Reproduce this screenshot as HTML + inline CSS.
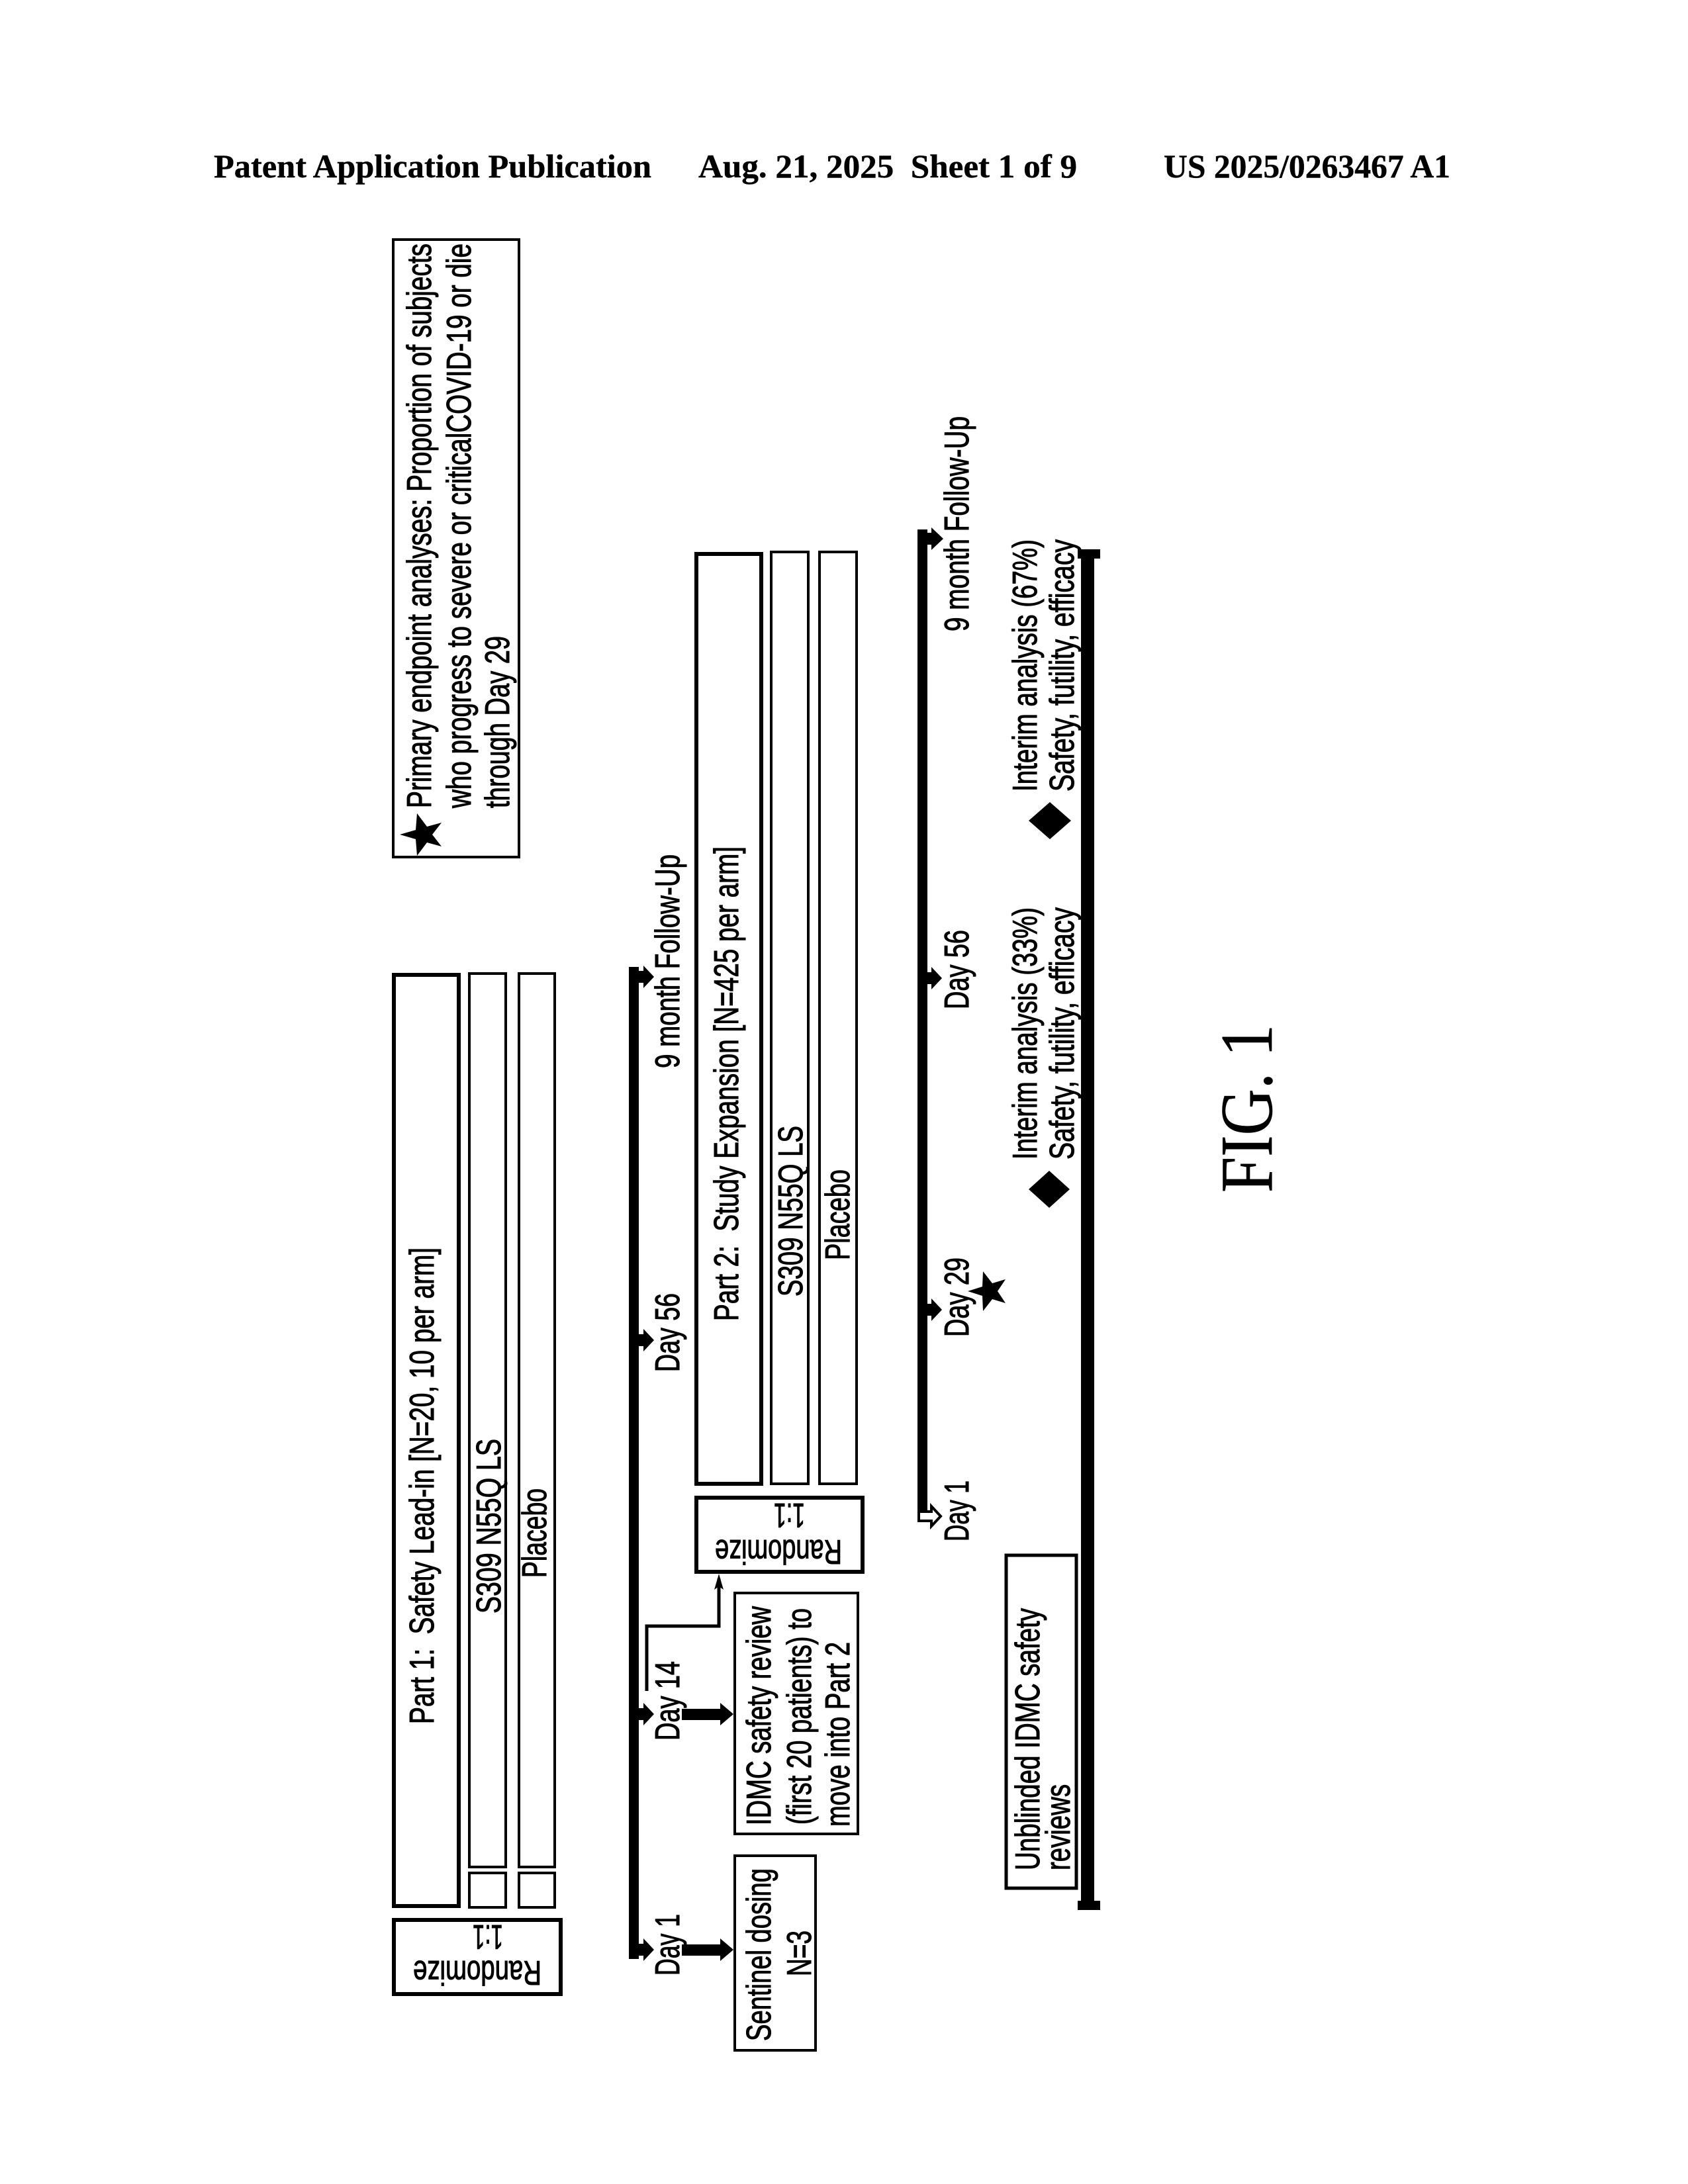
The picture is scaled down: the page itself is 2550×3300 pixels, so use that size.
<!DOCTYPE html>
<html><head><meta charset="utf-8"><title>FIG. 1</title>
<style>
html,body{margin:0;padding:0;background:#fff}
svg{display:block}
text{font-family:"Liberation Sans",sans-serif;font-size:52px;fill:#000;stroke:#000;stroke-width:1.1px}
.h{font-family:"Liberation Serif",serif;font-weight:bold;font-size:50px;stroke-width:0.4px}
.f{font-family:"Liberation Serif",serif;font-size:112px;stroke-width:0.6px}
rect{fill:none;stroke:#000;stroke-width:4}
.t{stroke-width:6}
</style></head><body>
<svg xmlns="http://www.w3.org/2000/svg" width="2550" height="3300" viewBox="0 0 2550 3300">
<rect x="0" y="0" width="2550" height="3300" style="fill:#fff;stroke:none"/>
<!-- header -->
<text class="h" x="323" y="268" textLength="661" lengthAdjust="spacingAndGlyphs">Patent Application Publication</text>
<text class="h" x="1055" y="268" textLength="572" lengthAdjust="spacingAndGlyphs" xml:space="preserve">Aug. 21, 2025  Sheet 1 of 9</text>
<text class="h" x="1758" y="268" textLength="433" lengthAdjust="spacingAndGlyphs">US 2025/0263467 A1</text>

<!-- legend -->
<rect x="594" y="362" width="190" height="933"/>
<polygon points="604,1261 628,1254 630,1229 645,1249 667,1243 653,1261 667,1279 645,1273 630,1293 628,1268"/>
<text transform="translate(651 1221) rotate(-90)" textLength="853" lengthAdjust="spacingAndGlyphs">Primary endpoint analyses: Proportion of subjects</text>
<text transform="translate(711 1221) rotate(-90)" textLength="853" lengthAdjust="spacingAndGlyphs">who progress to severe or criticalCOVID-19 or die</text>
<text transform="translate(769 1221) rotate(-90)" textLength="260" lengthAdjust="spacingAndGlyphs">through Day 29</text>

<!-- Part 1 -->
<rect class="t" x="595" y="1473" width="98" height="1407"/>
<rect x="709" y="1471" width="55" height="1350"/>
<rect x="784" y="1471" width="54" height="1350"/>
<rect x="709" y="2830" width="55" height="52"/>
<rect x="784" y="2830" width="54" height="52"/>
<rect class="t" x="595" y="2901" width="252" height="112"/>
<text transform="translate(655 2605) rotate(-90)" textLength="720" lengthAdjust="spacingAndGlyphs" xml:space="preserve">Part 1:  Safety Lead-in [N=20, 10 per arm]</text>
<text transform="translate(756 2438) rotate(-90)" textLength="264" lengthAdjust="spacingAndGlyphs">S309 N55Q LS</text>
<text transform="translate(825 2384) rotate(-90)" textLength="135" lengthAdjust="spacingAndGlyphs">Placebo</text>
<text transform="translate(818 2963) rotate(180)" textLength="194" lengthAdjust="spacingAndGlyphs">Randomize</text>
<text transform="translate(760 2909) rotate(180)" textLength="46" lengthAdjust="spacingAndGlyphs">1:1</text>

<!-- timeline 1 -->
<rect x="950" y="1461" width="15" height="1499" style="fill:#000;stroke:none"/>
<polygon points="965,1467 972,1467 972,1459 988,1476 972,1493 972,1485 965,1485"/>
<polygon points="965,2016 972,2016 972,2008 988,2025 972,2042 972,2034 965,2034"/>
<polygon points="965,2581 972,2581 972,2573 988,2590 972,2607 972,2599 965,2599"/>
<polygon points="965,2937 972,2937 972,2929 988,2946 972,2963 972,2955 965,2955"/>
<text transform="translate(1026 1614) rotate(-90)" textLength="323" lengthAdjust="spacingAndGlyphs">9 month Follow-Up</text>
<text transform="translate(1026 2073) rotate(-90)" textLength="119" lengthAdjust="spacingAndGlyphs">Day 56</text>
<text transform="translate(1026 2630) rotate(-90)" textLength="120" lengthAdjust="spacingAndGlyphs">Day 14</text>
<text transform="translate(1026 2985) rotate(-90)" textLength="93" lengthAdjust="spacingAndGlyphs">Day 1</text>
<!-- thick arrows -->
<polygon points="1030,2582 1088,2582 1088,2573 1108,2590 1088,2607 1088,2599 1030,2599"/>
<polygon points="1030,2938 1088,2938 1088,2929 1108,2946 1088,2963 1088,2955 1030,2955"/>
<!-- connector -->
<polyline points="977,2555 977,2457 1086,2457 1086,2385" fill="none" stroke="#000" stroke-width="5"/>
<polygon points="1086,2378 1079,2402 1086,2397 1093,2402"/>

<!-- Part 2 -->
<rect class="t" x="1052" y="837" width="98" height="1405"/>
<rect x="1165" y="834" width="56" height="1408"/>
<rect x="1238" y="834" width="56" height="1408"/>
<rect class="t" x="1052" y="2263" width="251" height="112"/>
<text transform="translate(1115 1996) rotate(-90)" textLength="717" lengthAdjust="spacingAndGlyphs" xml:space="preserve">Part 2:  Study Expansion [N=425 per arm]</text>
<text transform="translate(1212 1959) rotate(-90)" textLength="258" lengthAdjust="spacingAndGlyphs">S309 N55Q LS</text>
<text transform="translate(1283 1904) rotate(-90)" textLength="137" lengthAdjust="spacingAndGlyphs">Placebo</text>
<text transform="translate(1272 2327) rotate(180)" textLength="192" lengthAdjust="spacingAndGlyphs">Randomize</text>
<text transform="translate(1216 2272) rotate(180)" textLength="47" lengthAdjust="spacingAndGlyphs">1:1</text>

<!-- review boxes -->
<rect x="1110" y="2407" width="186" height="364"/>
<text transform="translate(1164 2758) rotate(-90)" textLength="331" lengthAdjust="spacingAndGlyphs">IDMC safety review</text>
<text transform="translate(1225 2757) rotate(-90)" textLength="327" lengthAdjust="spacingAndGlyphs">(first 20 patients) to</text>
<text transform="translate(1283 2760) rotate(-90)" textLength="279" lengthAdjust="spacingAndGlyphs">move into Part 2</text>
<rect x="1110" y="2804" width="122" height="294"/>
<text transform="translate(1164 3084) rotate(-90)" textLength="261" lengthAdjust="spacingAndGlyphs">Sentinel dosing</text>
<text transform="translate(1225 2986) rotate(-90)" textLength="69" lengthAdjust="spacingAndGlyphs">N=3</text>

<!-- timeline 2 -->
<rect x="1386" y="800" width="15" height="1486" style="fill:#000;stroke:none"/>
<polygon points="1401,805 1407,805 1407,797 1425,814 1407,831 1407,823 1401,823"/>
<polygon points="1401,1469 1407,1469 1407,1461 1423,1478 1407,1495 1407,1487 1401,1487"/>
<polygon points="1401,1970 1407,1970 1407,1962 1423,1979 1407,1996 1407,1988 1401,1988"/>
<polygon points="1388,2284 1407,2284 1407,2276 1421,2291 1407,2306 1407,2298 1388,2298" fill="#fff" stroke="#000" stroke-width="4"/>
<text transform="translate(1463 954) rotate(-90)" textLength="325" lengthAdjust="spacingAndGlyphs">9 month Follow-Up</text>
<text transform="translate(1463 1525) rotate(-90)" textLength="120" lengthAdjust="spacingAndGlyphs">Day 56</text>
<text transform="translate(1463 2020) rotate(-90)" textLength="120" lengthAdjust="spacingAndGlyphs">Day 29</text>
<text transform="translate(1463 2329) rotate(-90)" textLength="92" lengthAdjust="spacingAndGlyphs">Day 1</text>
<polygon points="1462,1951 1484,1944 1485,1921 1499,1939 1519,1933 1507,1951 1519,1969 1499,1963 1485,1981 1484,1958"/>

<!-- interim -->
<text transform="translate(1566 1196) rotate(-90)" textLength="381" lengthAdjust="spacingAndGlyphs">Interim analysis (67%)</text>
<text transform="translate(1622 1196) rotate(-90)" textLength="381" lengthAdjust="spacingAndGlyphs">Safety, futility, efficacy</text>
<polygon points="1554,1240 1586,1212 1618,1240 1586,1268"/>
<text transform="translate(1566 1752) rotate(-90)" textLength="381" lengthAdjust="spacingAndGlyphs">Interim analysis (33%)</text>
<text transform="translate(1622 1752) rotate(-90)" textLength="381" lengthAdjust="spacingAndGlyphs">Safety, futility, efficacy</text>
<polygon points="1554,1797 1585,1769 1616,1797 1585,1825"/>

<!-- thick line 3 -->
<rect x="1633" y="835" width="20" height="2043" style="fill:#000;stroke:none"/>
<rect x="1628" y="830" width="34" height="14" style="fill:#000;stroke:none"/>
<rect x="1628" y="2872" width="34" height="14" style="fill:#000;stroke:none"/>

<!-- unblinded -->
<rect x="1520" y="2350" width="106" height="503" style="fill:#fff;stroke-width:5"/>
<text transform="translate(1570 2826) rotate(-90)" textLength="396" lengthAdjust="spacingAndGlyphs">Unblinded IDMC safety</text>
<text transform="translate(1616 2826) rotate(-90)" textLength="130" lengthAdjust="spacingAndGlyphs">reviews</text>

<!-- figure label -->
<text class="f" transform="translate(1921 1802) rotate(-90)" textLength="254" lengthAdjust="spacingAndGlyphs">FIG. 1</text>
</svg>
</body></html>
